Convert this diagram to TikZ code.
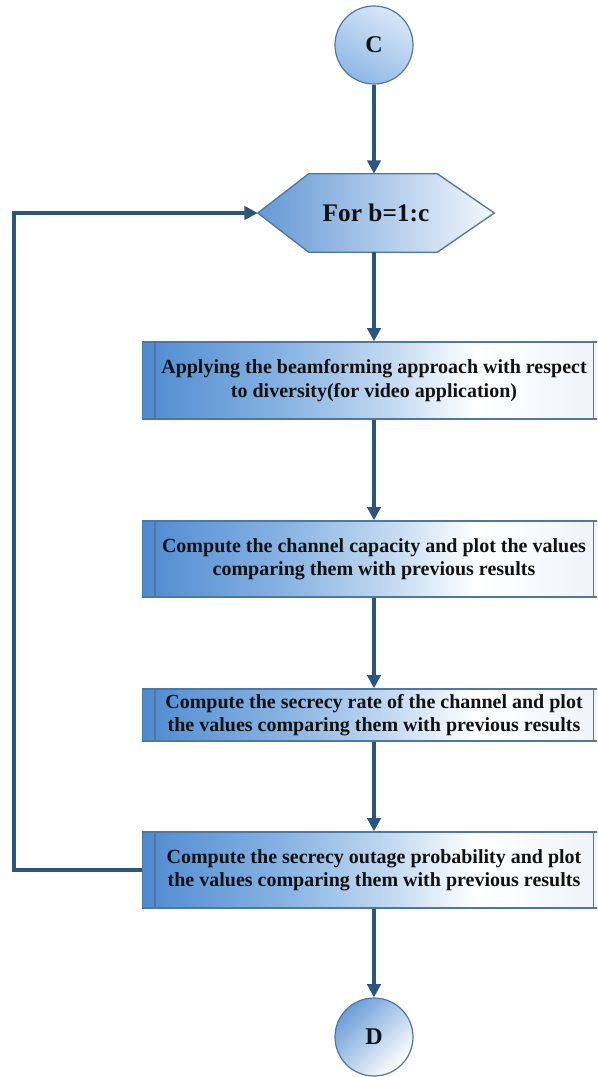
\documentclass[tikz,border=0pt]{standalone}
\usepackage{fontspec}
\setmainfont{Liberation Serif}
\usetikzlibrary{arrows.meta,calc,backgrounds}

\definecolor{flowline}{HTML}{2B557D}
\definecolor{edge}{HTML}{4E78A2}
\definecolor{ink}{HTML}{121212}
\definecolor{bxA}{HTML}{4F8BD1}
\definecolor{bxB}{HTML}{86B2E2}
\definecolor{bxC}{HTML}{C4DAF1}
\definecolor{bxD}{HTML}{EEF3F9}
\definecolor{hxA}{HTML}{6599D6}
\definecolor{hxB}{HTML}{B6D0EE}
\definecolor{hxC}{HTML}{F3F7FC}
\definecolor{cTop}{HTML}{D8E7F7}
\definecolor{cBot}{HTML}{8FB8E6}
\definecolor{dTop}{HTML}{6B9ED8}

% left-to-right fill of the process boxes: blue, fading to white, then a pale tint
\pgfdeclarehorizontalshading{boxfill}{100bp}{%
  color(0bp)=(bxA); color(25bp)=(bxA); color(40bp)=(bxB);
  color(52bp)=(bxC); color(61bp)=(white); color(75bp)=(bxD); color(100bp)=(bxD)}

\tikzset{
  flow/.style={draw=flowline, line width=2.6pt,
    -{Triangle[length=10pt,width=10pt]}},
  terminal/.style={circle, draw=edge, line width=0.9pt, minimum size=58.5pt,
    inner sep=0pt, text=ink, font=\bfseries\fontsize{18}{20}\selectfont},
  stepbox/.style={rectangle, draw=edge, line width=1pt, shading=boxfill,
    minimum width=347.25pt, inner sep=0pt, align=center, text=ink,
    font=\bfseries\fontsize{15}{17.5}\selectfont},
  stripe/.style={draw=edge, line width=1pt},
}

\begin{document}
\begin{tikzpicture}[x=0.75pt,y=-0.75pt]
\useasboundingbox (0,0) rectangle (597,1077);
\clip (0,0) rectangle (597,1077);

% terminals
\node[terminal, top color=cTop, bottom color=cBot, shading angle=-30] (c) at (374,45) {C};
\node[terminal, top color=dTop, bottom color=white, shading angle=45] (d) at (374,1037) {D};

% loop header (hexagon drawn behind its label)
\node[minimum width=177pt, minimum height=58.5pt, inner sep=0pt, text=ink,
      font=\bfseries\fontsize{19}{21}\selectfont] (loop) at (376,213) {For b=1:c};

% process steps
\node[stepbox, minimum height=57.75pt] (b1) at (374,380.5)
  {Applying the beamforming approach with respect\\to diversity(for video application)};
\node[stepbox, minimum height=57pt] (b2) at (374,559)
  {Compute the channel capacity and plot the values\\comparing them with previous results};
\node[stepbox, minimum height=39pt] (b3) at (374,715)
  {Compute the secrecy rate of the channel and plot\\the values comparing them with previous results};
\node[stepbox, minimum height=57pt] (b4) at (374,870)
  {Compute the secrecy outage probability and plot\\the values comparing them with previous results};

\begin{scope}[on background layer]
  \fill[white] (0,0) rectangle (597,1077);
  \path[draw=edge, line width=1pt, left color=hxA, middle color=hxB, right color=hxC]
    (loop.west) -- ($(loop.north west)+(51,0)$) -- ($(loop.north east)+(-57,0)$)
    -- (loop.east) -- ($(loop.south east)+(-57,0)$) -- ($(loop.south west)+(51,0)$) -- cycle;
\end{scope}

% side bars of the predefined-process boxes
\foreach \b in {b1,b2,b3,b4}{
  \draw[stripe] ($(\b.north west)+(13,0)$) -- ($(\b.south west)+(13,0)$);
  \draw[stripe] ($(\b.north east)+(-13,0)$) -- ($(\b.south east)+(-13,0)$);
}

% connectors
\draw[flow] (c) -- (c |- loop.north);
\draw[flow] (c |- loop.south) -- (b1);
\draw[flow] (b1) -- (b2);
\draw[flow] (b2) -- (b3);
\draw[flow] (b3) -- (b4);
\draw[flow] (b4) -- (d);
\coordinate (ret) at (14,870);
\draw[flow] (b4.west) -- (b4.west -| ret) |- (loop.west);
\end{tikzpicture}
\end{document}
